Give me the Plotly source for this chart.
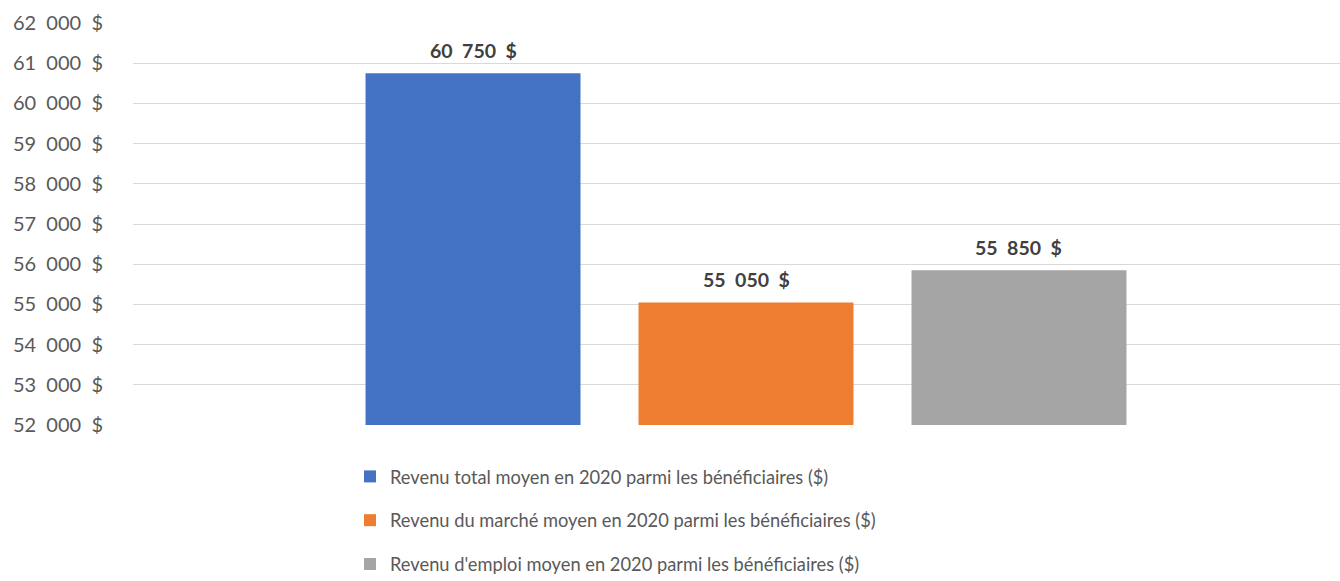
import plotly.graph_objects as go

# Series shown as grouped bars in a single category
series_names = [
    "Revenu total moyen en 2020 parmi les bénéficiaires ($)",
    "Revenu du marché moyen en 2020 parmi les bénéficiaires ($)",
    "Revenu d'emploi moyen en 2020 parmi les bénéficiaires ($)",
]
series_values = [60750, 55050, 55850]
series_colors = ["#4472C4", "#ED7D31", "#A5A5A5"]
category = ["Bénéficiaires"]

tick_values = [52000, 53000, 54000, 55000, 56000, 57000, 58000, 59000, 60000, 61000, 62000]


def money(v):
    # French-style currency: space-grouped thousands, dollar sign after
    return f"{v:,}".replace(",", "\u00a0\u00a0") + "\u00a0\u00a0$"


tick_labels = [money(v) for v in tick_values]

FONT = "Lato"
SIZE = 18.3
LABEL_SIZE = 19.5

# Geometry of the plot area and bar groups
W, H = 1340, 581
M_L, M_R, M_T, M_B = 133, 0, 23, 156
X_RANGE = [-0.5, 0.4845]
BARGAP = 0.332
BARGROUPGAP = 0.2125

fig = go.Figure()
for i, (name, val, col) in enumerate(zip(series_names, series_values, series_colors)):
    fig.add_trace(go.Bar(
        x=category,
        y=[val],
        name=name,
        marker=dict(color=col, line=dict(width=0)),
        legendgroup=f"g{i}",
    ))

# Value labels above each bar, offset to the bar's slot within the group
px_per_unit = (W - M_L - M_R) / (X_RANGE[1] - X_RANGE[0])
slot_px = px_per_unit * (1 - BARGAP) / len(series_values)
n = len(series_values)
for i, val in enumerate(series_values):
    fig.add_annotation(
        x=category[0], y=val, xref="x", yref="y",
        text=money(val),
        showarrow=False,
        xanchor="center", yanchor="middle",
        xshift=(i - (n - 1) / 2) * slot_px,
        yshift=23,
        font=dict(family=FONT, size=LABEL_SIZE, color="#404040", weight="bold"),
    )

fig.update_layout(
    width=W,
    height=H,
    margin=dict(l=M_L, r=M_R, t=M_T, b=M_B, autoexpand=False),
    paper_bgcolor="white",
    plot_bgcolor="white",
    barmode="group",
    bargap=BARGAP,
    bargroupgap=BARGROUPGAP,
    font=dict(family=FONT, size=SIZE, color="#595959"),
    showlegend=True,
    legend=dict(
        orientation="v",
        xref="container", yref="container",
        x=350 / W, y=1 - 458 / H,
        xanchor="left", yanchor="top",
        traceorder="grouped",
        tracegroupgap=17,
        font=dict(family=FONT, size=SIZE, color="#595959"),
        bgcolor="rgba(0,0,0,0)",
    ),
    xaxis=dict(
        type="category",
        range=X_RANGE,
        showticklabels=False,
        showgrid=False,
        zeroline=False,
        showline=False,
        ticks="",
    ),
    yaxis=dict(
        range=[52000, 62000],
        tickvals=tick_values,
        ticktext=tick_labels,
        showgrid=True,
        gridcolor="#D9D9D9",
        gridwidth=1.3,
        zeroline=False,
        showline=False,
        ticks="",
        ticklabelstandoff=29,
        tickfont=dict(family=FONT, size=20, color="#595959"),
    ),
)

fig.write_html("out.html")
